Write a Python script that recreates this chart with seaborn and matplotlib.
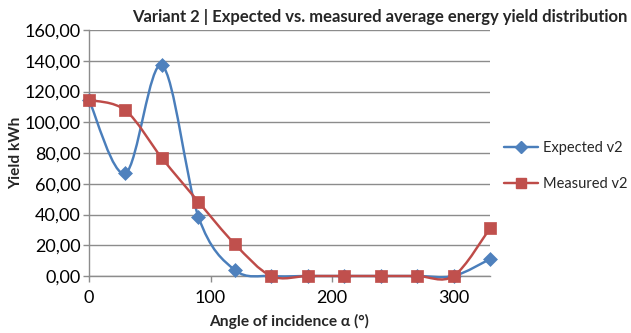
import numpy as np
import pandas as pd
import matplotlib
matplotlib.use("Agg")
import matplotlib.pyplot as plt
from matplotlib.path import Path
from matplotlib.patches import PathPatch
from matplotlib.lines import Line2D
from matplotlib.ticker import FuncFormatter
import seaborn as sns

angles = [0, 30, 60, 90, 120, 150, 180, 210, 240, 270, 300, 330]
expected_v2 = [114.5, 66.8, 137.0, 38.6, 3.9, 0, 0, 0, 0, 0, 0, 11.0]
measured_v2 = [114.5, 107.7, 76.7, 48.3, 20.8, 0, 0, 0, 0, 0, 0, 31.0]
series_names = ["Expected v2", "Measured v2"]
title = "Variant 2 | Expected vs. measured average energy yield distribution"
xlabel = "Angle of incidence α (°)"
ylabel = "Yield kWh"

BLUE = "#4A7EBB"
RED = "#BE4B48"
BLUE_FILL = "#4F81BD"
RED_FILL = "#C0504D"

sns.set_theme(style="white")
plt.rcParams["font.family"] = ["Lato", "DejaVu Sans"]

df = pd.DataFrame({
    "angle": angles * 2,
    "value": expected_v2 + measured_v2,
    "series": [series_names[0]] * len(angles) + [series_names[1]] * len(angles),
})

fig = plt.figure(figsize=(6.31, 3.33), dpi=100)
ax = fig.add_axes([89 / 631, 1 - 276 / 333, (490 - 89) / 631, (276 - 30) / 333])


def smooth_path(xs, ys):
    pts = np.column_stack([xs, ys]).astype(float)
    n = len(pts)
    verts = [pts[0]]
    codes = [Path.MOVETO]
    for i in range(n - 1):
        p0 = pts[i - 1] if i > 0 else pts[i]
        p1 = pts[i]
        p2 = pts[i + 1]
        p3 = pts[i + 2] if i + 2 < n else pts[i + 1]
        c1 = p1 + (p2 - p0) / 6.0
        c2 = p2 - (p3 - p1) / 6.0
        verts += [c1, c2, p2]
        codes += [Path.CURVE4] * 3
    return Path(verts, codes)


specs = [
    (series_names[0], expected_v2, BLUE, BLUE_FILL, "D", 50, 3),
    (series_names[1], measured_v2, RED, RED_FILL, "s", 75, 5),
]
for name, vals, col, fill, mk, size, z in specs:
    ax.add_patch(PathPatch(smooth_path(angles, vals), facecolor="none",
                           edgecolor=col, lw=1.75, zorder=z, clip_on=False))
    sns.scatterplot(data=df[df["series"] == name], x="angle", y="value",
                    color=fill, marker=mk, s=size, edgecolor=fill, linewidth=0.5,
                    ax=ax, legend=False, zorder=z + 1, clip_on=False)

ax.set_xlim(0, 330)
ax.set_ylim(0, 160)
ax.set_xticks([0, 100, 200, 300])
ax.set_yticks(np.arange(0, 161, 20))
ax.yaxis.set_major_formatter(FuncFormatter(lambda v, p: f"{v:.2f}".replace(".", ",")))
ax.grid(axis="y", color="#8C8C8C", lw=1)
ax.grid(axis="x", visible=False)
for sp in ["top", "right"]:
    ax.spines[sp].set_visible(False)
for sp in ["left", "bottom"]:
    ax.spines[sp].set_color("#8C8C8C")
    ax.spines[sp].set_linewidth(1)
ax.tick_params(axis="both", which="major", length=4, width=1, color="#8C8C8C",
               labelsize=13, labelcolor="#000000", direction="out",
               left=True, bottom=True)
ax.tick_params(axis="y", pad=2)
ax.tick_params(axis="x", pad=6)
ax.set_xlabel(xlabel, fontsize=11.2, fontweight="bold", labelpad=6)
ax.set_ylabel(ylabel, fontsize=11.2, fontweight="bold", labelpad=1)
ax.set_axisbelow(True)

fig.text(0.995, 0.948, title, ha="right", va="center", fontsize=12, fontweight="bold")

handles = [
    Line2D([], [], color=BLUE, lw=1.75, marker="D", markersize=6,
           markerfacecolor=BLUE_FILL, markeredgecolor=BLUE_FILL),
    Line2D([], [], color=RED, lw=1.75, marker="s", markersize=7.5,
           markerfacecolor=RED_FILL, markeredgecolor=RED_FILL),
]
fig.legend(handles, series_names, loc="center left",
           bbox_to_anchor=(497 / 631, 1 - 166 / 333), frameon=False,
           fontsize=10.5, handlelength=2.3, handletextpad=0.35, labelspacing=1.55,
           borderpad=0)

fig.savefig("out.png", dpi=100)
